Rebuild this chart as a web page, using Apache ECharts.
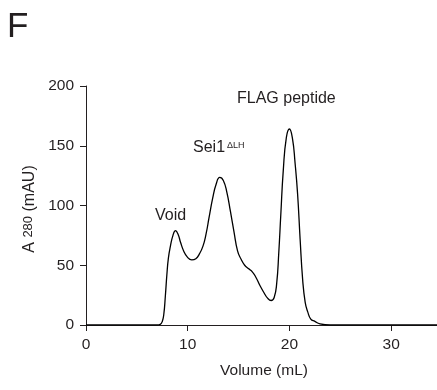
<!DOCTYPE html>
<html>
<head>
<meta charset="utf-8">
<script src="https://cdn.jsdelivr.net/npm/echarts@6/dist/echarts.min.js"></script>
<style>html,body{margin:0;padding:0;background:#fff}#c{width:437px;height:390px}</style>
</head>
<body>
<div id="c"></div>
<script>
const F="'Liberation Sans',Arial,Helvetica,sans-serif";
const INK='#231f20';

// elution volume (mL) and absorbance A280 (mAU)
const volume=[0,7.0,7.3,7.5,7.65,7.8,7.95,8.1,8.3,8.55,8.8,9.05,9.3,9.6,9.95,10.4,10.8,11.15,11.5,11.8,12.1,12.45,12.8,13.15,13.5,13.85,14.2,14.55,14.9,15.25,15.6,16.0,16.35,16.7,17.1,17.5,17.85,18.2,18.5,18.75,18.95,19.15,19.4,19.7,20.0,20.3,20.55,20.8,21.05,21.3,21.55,21.8,22.1,22.5,23.0,24.0,35];
const a280=[0,0,0.5,3,9,24,42,56,66,75,79,76,69,62,57,54.5,55.5,59.5,66,76,90,106,118,123.5,121,111,95,78,62,55,50,47,44.5,40,33,27,22.5,20.5,23,35,60,92,130,157,164,156,136,110,72,38,19,11,5,3,1,0,0];
const xTicks=[0,35,10];   // min, max, interval
const yTicks=[0,200,50];

const chart=echarts.init(document.getElementById('c'),null,{renderer:'canvas'});
const axisCommon={
  axisLine:{show:true,lineStyle:{color:INK,width:1}},
  axisTick:{show:true,length:6,lineStyle:{color:INK,width:1}},
  splitLine:{show:false},
  axisLabel:{fontFamily:F,fontSize:15.5,color:INK,margin:12,showMaxLabel:false}
};
chart.setOption({
  animation:false,
  grid:{left:86,top:86,width:356,height:239,containLabel:false,outerBoundsMode:'none'},
  xAxis:Object.assign({type:'value',min:xTicks[0],max:xTicks[1],interval:xTicks[2],
    name:'Volume (mL)',nameLocation:'middle',nameGap:38,
    nameTextStyle:{fontFamily:F,fontSize:15.5,color:INK}},axisCommon),
  yAxis:Object.assign({type:'value',min:yTicks[0],max:yTicks[1],interval:yTicks[2]},axisCommon,
    {axisLabel:Object.assign({},axisCommon.axisLabel,{showMaxLabel:true})}),
  series:[{type:'line',data:volume.map((v,i)=>[v,a280[i]]),smooth:0.5,symbol:'none',
    lineStyle:{color:'#000',width:1.3}}],
  graphic:[
    {type:'text',left:7,top:10,style:{text:'F',font:'35px '+F,fill:INK}},
    {type:'text',x:32,y:209,rotation:Math.PI/2,style:{
      text:'{n|A }{s|280}{n| (mAU)}',fill:INK,align:'center',verticalAlign:'middle',
      rich:{n:{fontFamily:F,fontSize:16,lineHeight:16,verticalAlign:'top',fill:INK},
            s:{fontFamily:F,fontSize:13,lineHeight:21,verticalAlign:'top',fill:INK}}}},
    {type:'text',left:155,top:208,style:{text:'Void',font:'16px '+F,fill:INK}},
    {type:'text',left:193,top:140,style:{text:'Sei1',font:'16px '+F,fill:INK}},
    {type:'text',left:227,top:141,style:{text:'\u0394LH',font:'9px '+F,fill:INK}},
    {type:'text',left:237,top:91,style:{text:'FLAG peptide',font:'16px '+F,fill:INK}}
  ]
});
</script>
</body>
</html>
